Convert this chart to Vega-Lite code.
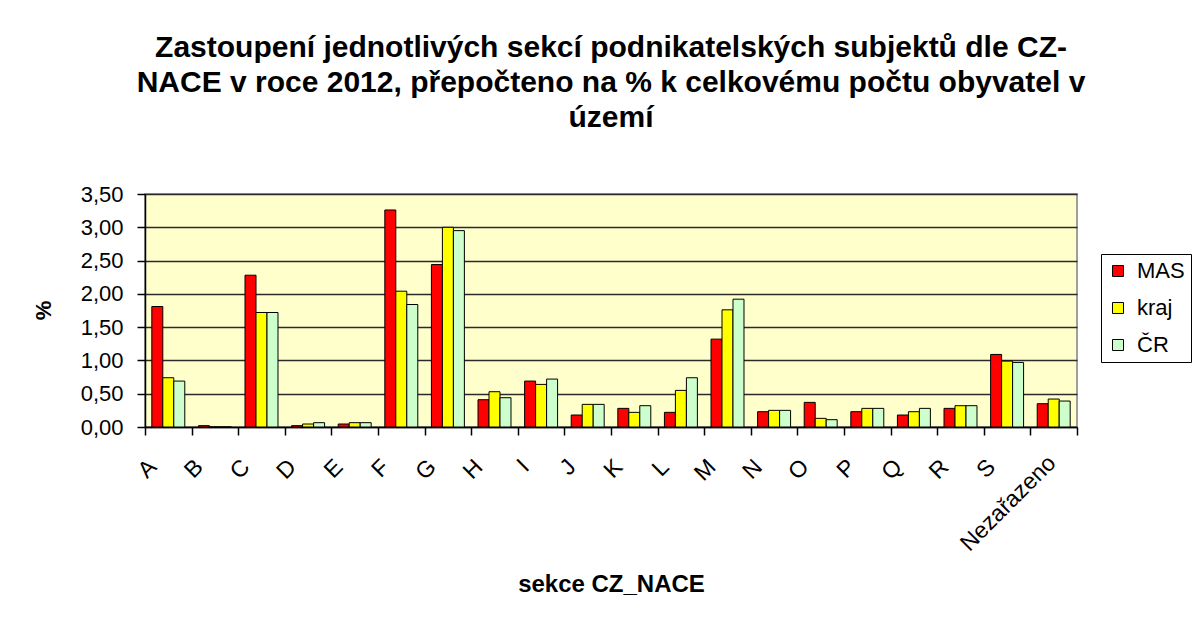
{
  "$schema": "https://vega.github.io/schema/vega-lite/v6.json",
  "width": 932,
  "height": 233,
  "autosize": {"type": "none"},
  "padding": {"left": 145, "top": 194, "right": 115, "bottom": 192},
  "background": "white",
  "title": {
    "text": ["Zastoupení jednotlivých sekcí podnikatelských subjektů dle CZ-", "NACE v roce 2012, přepočteno na % k celkovému počtu obyvatel v", "území"],
    "font": "Liberation Sans",
    "fontSize": 30,
    "fontWeight": "bold",
    "lineHeight": 35,
    "color": "black",
    "anchor": "middle",
    "frame": "group",
    "offset": 50
  },
  "data": {
    "values": [
      {"sekce": "A", "rada": "MAS", "hodnota": 1.81},
      {"sekce": "A", "rada": "kraj", "hodnota": 0.74},
      {"sekce": "A", "rada": "ČR", "hodnota": 0.69},
      {"sekce": "B", "rada": "MAS", "hodnota": 0.02},
      {"sekce": "B", "rada": "kraj", "hodnota": 0.0},
      {"sekce": "B", "rada": "ČR", "hodnota": 0.0},
      {"sekce": "C", "rada": "MAS", "hodnota": 2.28},
      {"sekce": "C", "rada": "kraj", "hodnota": 1.72},
      {"sekce": "C", "rada": "ČR", "hodnota": 1.72},
      {"sekce": "D", "rada": "MAS", "hodnota": 0.02},
      {"sekce": "D", "rada": "kraj", "hodnota": 0.045},
      {"sekce": "D", "rada": "ČR", "hodnota": 0.065},
      {"sekce": "E", "rada": "MAS", "hodnota": 0.045},
      {"sekce": "E", "rada": "kraj", "hodnota": 0.065},
      {"sekce": "E", "rada": "ČR", "hodnota": 0.065},
      {"sekce": "F", "rada": "MAS", "hodnota": 3.26},
      {"sekce": "F", "rada": "kraj", "hodnota": 2.04},
      {"sekce": "F", "rada": "ČR", "hodnota": 1.84},
      {"sekce": "G", "rada": "MAS", "hodnota": 2.44},
      {"sekce": "G", "rada": "kraj", "hodnota": 3.0},
      {"sekce": "G", "rada": "ČR", "hodnota": 2.95},
      {"sekce": "H", "rada": "MAS", "hodnota": 0.41},
      {"sekce": "H", "rada": "kraj", "hodnota": 0.53},
      {"sekce": "H", "rada": "ČR", "hodnota": 0.44},
      {"sekce": "I", "rada": "MAS", "hodnota": 0.69},
      {"sekce": "I", "rada": "kraj", "hodnota": 0.64},
      {"sekce": "I", "rada": "ČR", "hodnota": 0.72},
      {"sekce": "J", "rada": "MAS", "hodnota": 0.18},
      {"sekce": "J", "rada": "kraj", "hodnota": 0.34},
      {"sekce": "J", "rada": "ČR", "hodnota": 0.34},
      {"sekce": "K", "rada": "MAS", "hodnota": 0.28},
      {"sekce": "K", "rada": "kraj", "hodnota": 0.22},
      {"sekce": "K", "rada": "ČR", "hodnota": 0.32},
      {"sekce": "L", "rada": "MAS", "hodnota": 0.22},
      {"sekce": "L", "rada": "kraj", "hodnota": 0.55},
      {"sekce": "L", "rada": "ČR", "hodnota": 0.74},
      {"sekce": "M", "rada": "MAS", "hodnota": 1.32},
      {"sekce": "M", "rada": "kraj", "hodnota": 1.76},
      {"sekce": "M", "rada": "ČR", "hodnota": 1.92},
      {"sekce": "N", "rada": "MAS", "hodnota": 0.23},
      {"sekce": "N", "rada": "kraj", "hodnota": 0.25},
      {"sekce": "N", "rada": "ČR", "hodnota": 0.25},
      {"sekce": "O", "rada": "MAS", "hodnota": 0.37},
      {"sekce": "O", "rada": "kraj", "hodnota": 0.13},
      {"sekce": "O", "rada": "ČR", "hodnota": 0.11},
      {"sekce": "P", "rada": "MAS", "hodnota": 0.23},
      {"sekce": "P", "rada": "kraj", "hodnota": 0.28},
      {"sekce": "P", "rada": "ČR", "hodnota": 0.28},
      {"sekce": "Q", "rada": "MAS", "hodnota": 0.18},
      {"sekce": "Q", "rada": "kraj", "hodnota": 0.23},
      {"sekce": "Q", "rada": "ČR", "hodnota": 0.28},
      {"sekce": "R", "rada": "MAS", "hodnota": 0.28},
      {"sekce": "R", "rada": "kraj", "hodnota": 0.32},
      {"sekce": "R", "rada": "ČR", "hodnota": 0.32},
      {"sekce": "S", "rada": "MAS", "hodnota": 1.09},
      {"sekce": "S", "rada": "kraj", "hodnota": 0.99},
      {"sekce": "S", "rada": "ČR", "hodnota": 0.97},
      {"sekce": "Nezařazeno", "rada": "MAS", "hodnota": 0.35},
      {"sekce": "Nezařazeno", "rada": "kraj", "hodnota": 0.42},
      {"sekce": "Nezařazeno", "rada": "ČR", "hodnota": 0.39}
    ]
  },
  "mark": {"type": "bar", "stroke": "black", "strokeWidth": 1},
  "encoding": {
    "x": {
      "field": "sekce",
      "type": "nominal",
      "sort": ["A","B","C","D","E","F","G","H","I","J","K","L","M","N","O","P","Q","R","S","Nezařazeno"],
      "scale": {"paddingInner": 0, "paddingOuter": 0},
      "axis": {
        "title": "sekce CZ_NACE",
        "titleFont": "Liberation Sans",
        "titleFontSize": 24,
        "titleFontWeight": "bold",
        "titleColor": "black",
        "titleY": 164,
        "titleBaseline": "alphabetic",
        "labelFont": "Liberation Sans",
        "labelFontSize": 23,
        "labelColor": "black",
        "labelAngle": -45,
        "labelAlign": "right",
        "labelBaseline": "middle",
        "labelPadding": {"condition": {"test": "datum.value === 'Nezařazeno'", "value": 24}, "value": 28},
        "labelOffset": {"condition": {"test": "datum.value === 'Nezařazeno'", "value": -2}, "value": -16},
        "labelOverlap": false,
        "tickBand": "extent",
        "tickSize": 8,
        "tickColor": "black",
        "tickWidth": 1.5,
        "domainColor": "black",
        "domainWidth": 1.5,
        "grid": false
      }
    },
    "xOffset": {
      "field": "rada",
      "type": "nominal",
      "sort": ["MAS", "kraj", "ČR"],
      "scale": {"paddingInner": 0, "paddingOuter": 0.62}
    },
    "y": {
      "field": "hodnota",
      "type": "quantitative",
      "scale": {"domain": [0, 3.5], "nice": false},
      "axis": {
        "title": "%",
        "titleFont": "Liberation Sans",
        "titleFontSize": 22,
        "titleFontWeight": "bold",
        "titleColor": "black",
        "titleX": -102,
        "titleY": 116,
        "titleAngle": -90,
        "titleAlign": "center",
        "titleBaseline": "middle",
        "values": [0, 0.5, 1, 1.5, 2, 2.5, 3, 3.5],
        "labelExpr": "replace(format(datum.value, '.2f'), '.', ',')",
        "labelFont": "Liberation Sans",
        "labelFontSize": 22,
        "labelColor": "black",
        "labelPadding": 14,
        "tickSize": 8,
        "tickColor": "black",
        "tickWidth": 1.5,
        "domainColor": "black",
        "domainWidth": 1.5,
        "grid": true,
        "gridColor": "#2a2a2a",
        "gridWidth": 1.3
      }
    },
    "color": {
      "field": "rada",
      "type": "nominal",
      "sort": ["MAS", "kraj", "ČR"],
      "scale": {"domain": ["MAS", "kraj", "ČR"], "range": ["#FF0000", "#FFFF00", "#CCFFCC"]},
      "legend": {
        "title": null,
        "orient": "none",
        "legendX": 956,
        "legendY": 60,
        "strokeColor": "black",
        "fillColor": "white",
        "padding": 6,
        "symbolType": "square",
        "symbolSize": 121,
        "symbolStrokeColor": "black",
        "symbolStrokeWidth": 1,
        "symbolOpacity": 1,
        "labelFont": "Liberation Sans",
        "labelFontSize": 22,
        "labelColor": "black",
        "labelOffset": 8,
        "rowPadding": 15
      }
    }
  },
  "config": {
    "view": {"fill": "#FFFFCC", "stroke": "#808080", "strokeWidth": 1.5}
  }
}
